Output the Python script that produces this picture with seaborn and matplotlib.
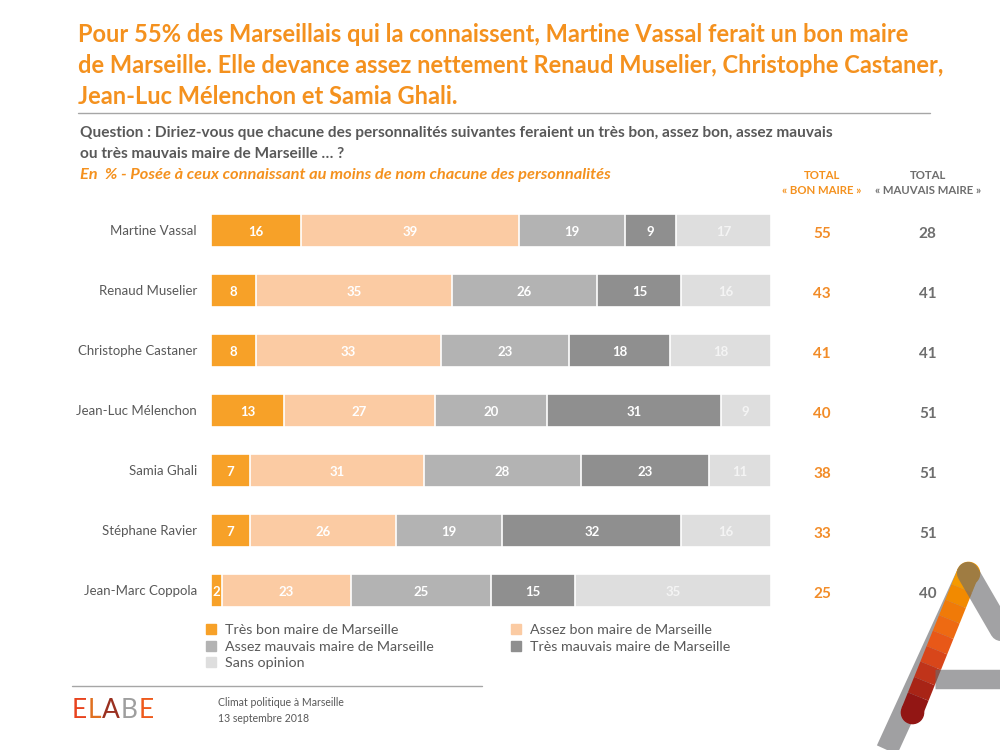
import matplotlib.pyplot as plt
import seaborn as sns
import pandas as pd
import numpy as np
from matplotlib.lines import Line2D

names = ["Martine Vassal", "Renaud Muselier", "Christophe Castaner", "Jean-Luc Mélenchon",
         "Samia Ghali", "Stéphane Ravier", "Jean-Marc Coppola"]
tres_bon = [16, 8, 8, 13, 7, 7, 2]
assez_bon = [39, 35, 33, 27, 31, 26, 23]
assez_mauvais = [19, 26, 23, 20, 28, 19, 25]
tres_mauvais = [9, 15, 18, 31, 23, 32, 15]
sans_opinion = [17, 16, 18, 9, 11, 16, 35]
total_bon = [55, 43, 41, 40, 38, 33, 25]
total_mauvais = [28, 41, 41, 51, 51, 51, 40]

series = ["Très bon maire de Marseille", "Assez bon maire de Marseille",
          "Assez mauvais maire de Marseille", "Très mauvais maire de Marseille", "Sans opinion"]
colors = ["#F7A128", "#FBCBA3", "#B3B3B3", "#8F8F8F", "#DEDEDE"]

df = pd.DataFrame({"name": names, series[0]: tres_bon, series[1]: assez_bon,
                   series[2]: assez_mauvais, series[3]: tres_mauvais, series[4]: sans_opinion})
cum = df[series].cumsum(axis=1)

sns.set_style("white")
plt.rcParams["font.family"] = ["Lato", "DejaVu Sans"]

fig = plt.figure(figsize=(10, 7.5), dpi=100)
ax = fig.add_axes([0.211, 1 - 620 / 750, 0.56, 420 / 750])

# stacked bars: draw cumulative totals from the back to the front
for s, c in reversed(list(zip(series, colors))):
    sns.barplot(x=cum[s], y=df["name"], color=c, saturation=1, width=0.55,
                edgecolor="white", linewidth=1.2, orient="h", ax=ax)

for i in range(len(names)):
    left = 0
    for s in series:
        v = df.loc[i, s]
        tc = "#F4F4F4" if s == "Sans opinion" else "white"
        ax.text(left + v / 2, i + 0.03, str(v), ha="center", va="center", color=tc,
                fontsize=9.5, fontweight="bold")
        left += v
    ax.text(109.1, i + 0.07, str(total_bon[i]), ha="center", va="center", color="#F28C28",
            fontsize=11, fontweight="bold", clip_on=False)
    ax.text(128.0, i + 0.07, str(total_mauvais[i]), ha="center", va="center", color="#6E6E6E",
            fontsize=11, fontweight="bold", clip_on=False)

ax.set_xlim(0, 100)
ax.set_ylim(6.5, -0.5)
ax.set_xlabel("")
ax.set_ylabel("")
ax.set_xticks([])
ax.tick_params(axis="y", length=0, pad=10, labelsize=9.5, labelcolor="#595959")
sns.despine(ax=ax, left=True, bottom=True)

def px(x, y):
    return x / 1000, 1 - y / 750

orange = "#F4911E"
fig.text(*px(78, 23), "Pour 55% des Marseillais qui la connaissent, Martine Vassal ferait un bon maire\n"
         "de Marseille. Elle devance assez nettement Renaud Muselier, Christophe Castaner,\n"
         "Jean-Luc Mélenchon et Samia Ghali.", color=orange, fontsize=17, fontweight="bold",
         va="top", linespacing=1.42)
fig.add_artist(Line2D([0.078, 0.93], [1 - 113 / 750] * 2, color="#A6A6A6", lw=1))
fig.text(*px(80, 126), "Question : Diriez-vous que chacune des personnalités suivantes feraient un très bon, assez bon, assez mauvais\n"
         "ou très mauvais maire de Marseille … ?", color="#595959", fontsize=11.1, fontweight="bold",
         va="top", linespacing=1.6)
fig.text(*px(80, 175), "En  % - Posée à ceux connaissant au moins de nom chacune des personnalités",
         color=orange, fontsize=11.8, fontweight="bold", style="italic", va="center")
fig.text(*px(822, 183), "TOTAL\n« BON MAIRE »", color=orange, fontsize=8.2, fontweight="bold",
         ha="center", va="center", linespacing=1.35)
fig.text(*px(928, 183), "TOTAL\n« MAUVAIS MAIRE »", color="#6E6E6E", fontsize=8.2, fontweight="bold",
         ha="center", va="center", linespacing=1.35)

order = [0, 2, 4, 1, 3]
handles = [Line2D([], [], marker="s", ls="", color=colors[k], markersize=7) for k in order]
fig.legend(handles, [series[k] for k in order], ncol=2, loc="upper left",
           bbox_to_anchor=px(191, 611), frameon=False, fontsize=10.3, labelcolor="#595959",
           handletextpad=0.5, columnspacing=5.2, labelspacing=0.33, handlelength=1.0)

# footer
fig.add_artist(Line2D([0.072, 0.482], [1 - 686 / 750] * 2, color="#A6A6A6", lw=1))
t = fig.text(*px(72, 711), "E", color="#E8431E", fontsize=19, va="center")
for ch, cc in zip("LABE", ["#E07020", "#9A3020", "#9E9E9E", "#EE5A1C"]):
    t = ax.annotate(ch, xy=(1, 0), xycoords=t, xytext=(0.6, 0), textcoords="offset points",
                    ha="left", va="bottom", color=cc, fontsize=19, annotation_clip=False)
fig.text(*px(218, 702), "Climat politique à Marseille", color="#595959", fontsize=7.6, va="center")
fig.text(*px(218, 718), "13 septembre 2018", color="#595959", fontsize=7.6, va="center")

# logo "A" in the corner
gray = "#A0A0A2"
fig.add_artist(Line2D([887 / 1000, 968 / 1000], [0, 1 - 573 / 750], color=gray, lw=16,
                      solid_capstyle="butt"))
grad = ["#F59A00", "#F28A00", "#F07A08", "#EE6A12", "#E85818", "#D8461A", "#C0341A",
        "#A82416", "#921614"]
xs = np.linspace(968, 912, len(grad) + 1)
ys = np.linspace(573, 712, len(grad) + 1)
for k, gc in enumerate(grad):
    fig.add_artist(Line2D([xs[k] / 1000, xs[k + 1] / 1000], [1 - ys[k] / 750, 1 - ys[k + 1] / 750],
                          color=gc, lw=16, solid_capstyle="butt"))
fig.add_artist(Line2D([xs[0] / 1000], [1 - ys[0] / 750], marker="o", ms=16, color=grad[0], ls=""))
fig.add_artist(Line2D([xs[-1] / 1000], [1 - ys[-1] / 750], marker="o", ms=16, color=grad[-1], ls=""))
dark = "#6A6A6C"
fig.add_artist(Line2D([968 / 1000, 1.03], [1 - 573 / 750, 1 - 680 / 750], color=dark, lw=16,
                      alpha=0.62, solid_capstyle="round"))
fig.add_artist(Line2D([0.935, 1.0], [1 - 679 / 750] * 2, color=dark, lw=14, alpha=0.62,
                      solid_capstyle="butt"))

fig.savefig("out.png", dpi=100)
